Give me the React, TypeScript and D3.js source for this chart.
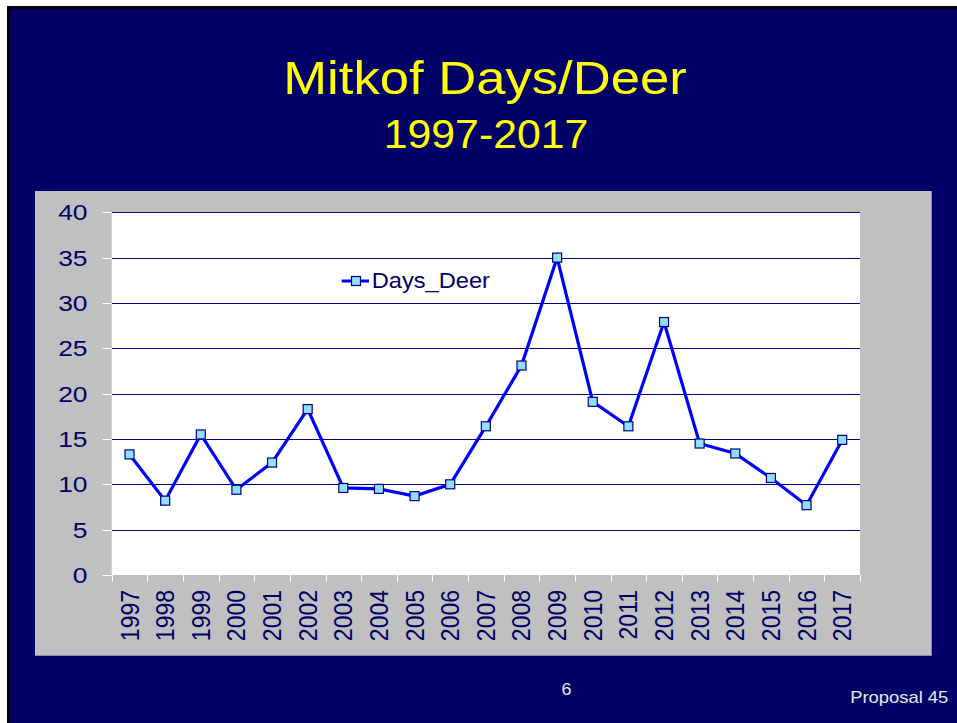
import React from "react";
import * as d3 from "d3";

const years = ["1997","1998","1999","2000","2001","2002","2003","2004","2005","2006","2007","2008","2009","2010","2011","2012","2013","2014","2015","2016","2017"];
const daysDeer = [13.3, 8.2, 15.5, 9.4, 12.4, 18.3, 9.6, 9.5, 8.7, 10.0, 16.4, 23.1, 35.0, 19.1, 16.4, 27.9, 14.5, 13.4, 10.7, 7.7, 14.9];
const yTicks = [0, 5, 10, 15, 20, 25, 30, 35, 40];
const seriesName = "Days_Deer";
const title = "Mitkof Days/Deer";
const subtitle = "1997-2017";

const W = 957, H = 723;
const NAVY = "#000066";
const FONT = "'Liberation Sans', Arial, sans-serif";

export default function App() {
  const plotL = 111.7, plotR = 860, plotT = 212.3, plotB = 575;
  const x = d3.scaleBand<string>().domain(years).range([plotL, plotR]);
  const y = d3.scaleLinear().domain([0, 40]).range([plotB, plotT]);
  const cx = (yr: string) => (x(yr) as number) + x.bandwidth() / 2;
  const line = d3.line<number>().x((_, i) => cx(years[i])).y(d => y(d));
  const boundaries = years.map(yr => x(yr) as number).concat([plotR]);

  return (
    <svg width={W} height={H} style={{ position: "absolute", left: 0, top: 0 }} fontFamily={FONT}>
      <rect x={0} y={0} width={W} height={H} fill="#ffffff" />
      <rect x={7} y={6} width={W} height={H} fill="#000000" />
      <rect x={10} y={9} width={W} height={H} fill={NAVY} />

      <text transform={`translate(485,94.3) scale(1.12,1)`} textAnchor="middle" fontSize={47} fill="#ffff00">{title}</text>
      <text transform={`translate(486,148.3) scale(1.07,1)`} textAnchor="middle" fontSize={40} fill="#ffff00">{subtitle}</text>

      <rect x={35} y={191} width={931.7 - 35} height={655.7 - 191} fill="#c0c0c0" />
      <rect x={plotL} y={plotT} width={plotR - plotL} height={plotB - plotT} fill="#ffffff" />

      {yTicks.filter(t => t > 0).map(t => (
        <line key={"g" + t} x1={plotL} x2={plotR} y1={Math.round(y(t)) + 0.5} y2={Math.round(y(t)) + 0.5} stroke="#000080" strokeWidth={1} />
      ))}
      {yTicks.map(t => (
        <line key={"yt" + t} x1={102.7} x2={plotL} y1={Math.round(y(t)) + 0.5} y2={Math.round(y(t)) + 0.5} stroke="#ffffff" strokeWidth={1} />
      ))}
      {boundaries.map((b, i) => (
        <line key={"xt" + i} x1={Math.round(b) + 0.5} x2={Math.round(b) + 0.5} y1={plotB} y2={plotB + 6.7} stroke="#ffffff" strokeWidth={1} />
      ))}
      {yTicks.map(t => (
        <text key={"yl" + t} transform={`translate(87.5,${y(t) + 8}) scale(1.2,1)`} textAnchor="end" fontSize={22} fill={NAVY}>{t}</text>
      ))}
      {years.map(yr => (
        <text key={"xl" + yr} transform={`translate(${cx(yr) + 9},590) scale(1.1,1) rotate(-90)`} textAnchor="end" fontSize={23} fill={NAVY}>{yr}</text>
      ))}

      <path d={line(daysDeer) || ""} fill="none" stroke="#0000ff" strokeWidth={3.2} strokeLinejoin="miter" />
      {daysDeer.map((v, i) => (
        <rect key={"m" + i} x={cx(years[i]) - 4.5} y={y(v) - 4.5} width={9} height={9} fill="#8fdfff" stroke="#000080" strokeWidth={1.2} />
      ))}

      <line x1={341.7} x2={369} y1={281} y2={281} stroke="#0000ff" strokeWidth={3} />
      <rect x={351.5} y={276.5} width={9} height={9} fill="#8fdfff" stroke="#000080" strokeWidth={1.2} />
      <text transform={`translate(371.7,287.7) scale(1.1,1)`} fontSize={21.5} fill={NAVY}>{seriesName}</text>

      <text transform={`translate(566.5,695) scale(1.12,1)`} textAnchor="middle" fontSize={16} fill="#e8e8e8">6</text>
      <text transform={`translate(948.3,703.3) scale(1.15,1)`} textAnchor="end" fontSize={16} fill="#e8e8e8">Proposal 45</text>
    </svg>
  );
}
